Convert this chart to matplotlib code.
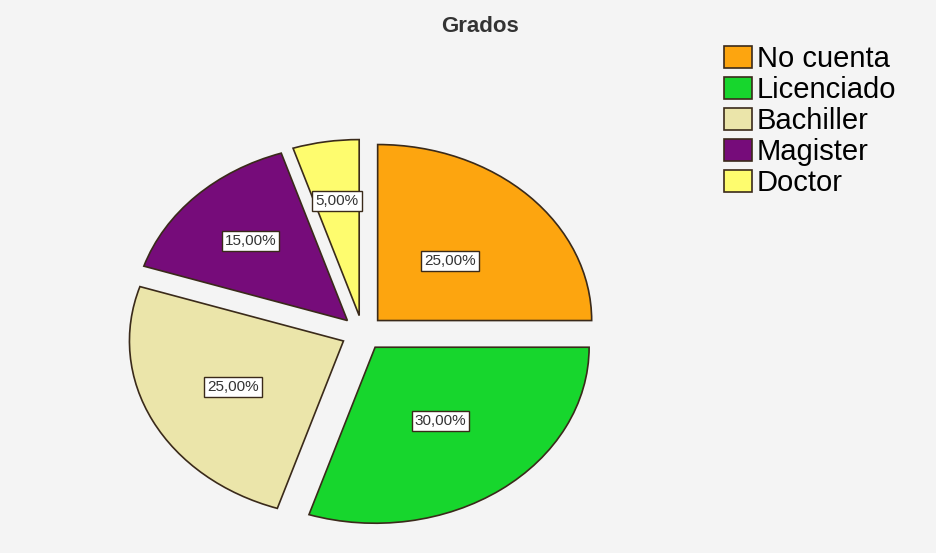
import matplotlib
matplotlib.use("Agg")
import matplotlib.pyplot as plt
import numpy as np

plt.rcParams['font.family'] = ['Liberation Sans', 'DejaVu Sans']

# datos del grafico
categorias = ["No cuenta", "Licenciado", "Bachiller", "Magister", "Doctor"]
porcentajes = [25, 30, 25, 15, 5]
colores = ["#FDA50F", "#17D62D", "#EBE5AA", "#760C7A", "#FEFC6E"]

fig = plt.figure(figsize=(9.37, 5.53), dpi=100)
fig.patch.set_facecolor("#f4f4f4")

ax = fig.add_axes([0.1014, 0.0, 0.571, 0.7957])
ax.set_facecolor("#f4f4f4")

wedges, texts, autotexts = ax.pie(
    porcentajes, colors=colores, explode=[0.1] * len(porcentajes),
    startangle=90, counterclock=False, pctdistance=0.55,
    autopct=lambda p: ("%.2f%%" % p).replace(".", ","),
    wedgeprops=dict(edgecolor="#3a2a1a", linewidth=1.2))
ax.set_aspect("auto")
ax.set_xlim(-1.25, 1.25)
ax.set_ylim(-1.25, 1.25)

# etiquetas un poco mas hacia adentro/afuera como en SPSS
dist = [0.58, 0.62, 0.68, 0.74, 0.76]
for w, t, d in zip(wedges, autotexts, dist):
    ang = np.deg2rad((w.theta1 + w.theta2) / 2)
    t.set_position((d * np.cos(ang), d * np.sin(ang)))
    t.set_fontsize(11)
    t.set_color("#333333")
    t.set_bbox(dict(boxstyle="square,pad=0.2", facecolor="white",
                    edgecolor="#3a2a1a", linewidth=1))

fig.text(0.512, 0.952, "Grados", ha="center", va="center",
         fontsize=16, fontweight="bold", color="#333333")

fig.legend(wedges, categorias, loc="upper left",
           bbox_to_anchor=(0.7727, 0.918), frameon=False,
           fontsize=21, borderpad=0, borderaxespad=0,
           labelspacing=0.1, handlelength=0.95, handleheight=0.8,
           handletextpad=0.18)

fig.savefig("out.png", dpi=100, facecolor=fig.get_facecolor())
